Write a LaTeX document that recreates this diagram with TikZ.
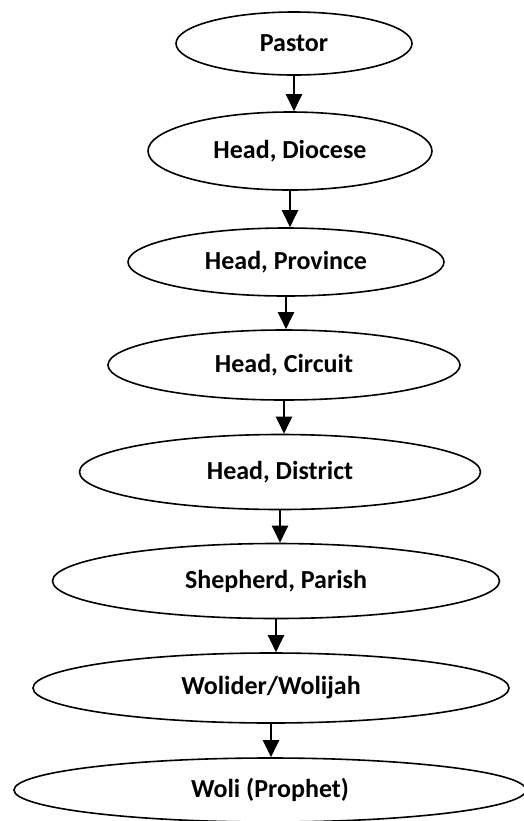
\documentclass[tikz,border=0pt]{standalone}
\usepackage{fontspec}
\setmainfont{Carlito}
\usetikzlibrary{shapes.geometric,arrows.meta}
\begin{document}
\begin{tikzpicture}[x=0.5pt,y=-0.5pt,>={Triangle[width=8pt,length=8.5pt]},
		rank/.style={ellipse,draw,line width=0.8pt,inner sep=0pt,font=\fontsize{13}{15}\selectfont\bfseries},
		link/.style={->,line width=1pt}]
		\clip (0,0) rectangle (524,821);
		\node[rank,minimum width=118pt,minimum height=31.5pt] (pastor) at (294,43.5) {Pastor};
		\node[rank,minimum width=142pt,minimum height=39pt] (diocese) at (290,151) {Head, Diocese};
		\node[rank,minimum width=158pt,minimum height=34pt] (province) at (286,262) {Head, Province};
		\node[rank,minimum width=176pt,minimum height=35pt] (circuit) at (284,365) {Head, Circuit};
		\node[rank,minimum width=200.5pt,minimum height=37.5pt] (district) at (280,472) {Head, District};
		\node[rank,minimum width=223.5pt,minimum height=37.5pt] (parish) at (276,581) {Shepherd, Parish};
		\node[rank,minimum width=238pt,minimum height=35pt] (wolider) at (271,688) {Wolider/Wolijah};
		\node[rank,minimum width=256pt,minimum height=32pt] (woli) at (270,790) {Woli (Prophet)};
		% chain of arrows downwards
		\draw[link] (pastor.south) -- (pastor.south |- diocese.north);
		\draw[link] (diocese.south) -- (diocese.south |- province.north);
		\draw[link] (province.south) -- (province.south |- circuit.north);
		\draw[link] (circuit.south) -- (circuit.south |- district.north);
		\draw[link] (district.south) -- (district.south |- parish.north);
		\draw[link] (parish.south) -- (parish.south |- wolider.north);
		\draw[link] (wolider.south) -- (wolider.south |- woli.north);
\end{tikzpicture}
\end{document}
